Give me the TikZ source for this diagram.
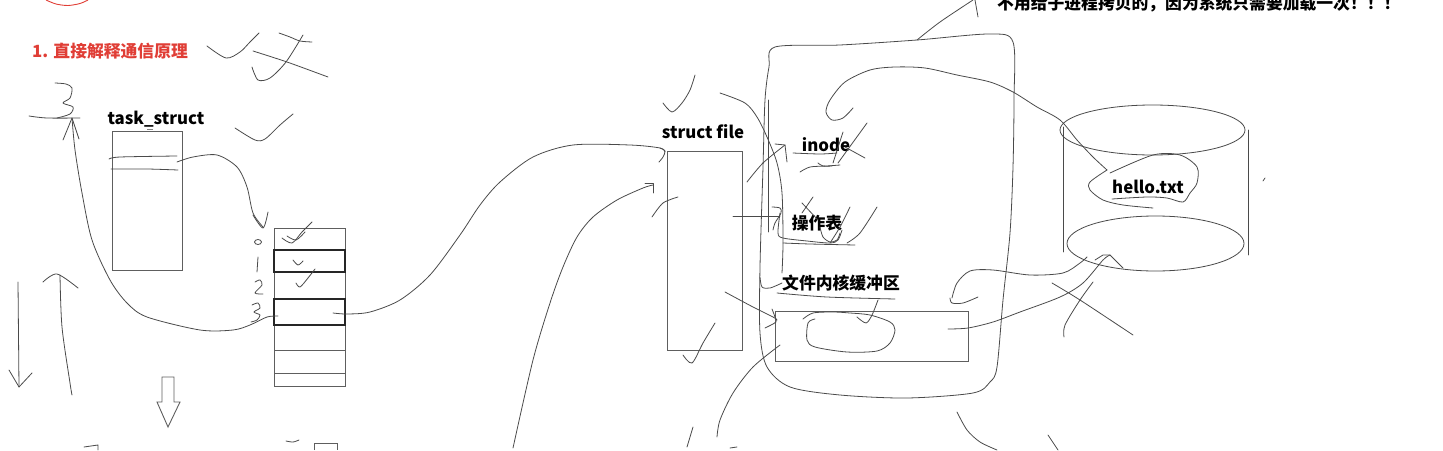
\documentclass[tikz,border=0pt]{standalone}
\usepackage{fontspec}
\setmainfont{Noto Sans CJK SC}
\definecolor{redc}{HTML}{E03E36}
\definecolor{penc}{HTML}{4A4A4A}
\definecolor{boxc}{HTML}{5E5E5E}
\tikzset{
 pen/.style={draw=penc, line width=0.8pt, line cap=round, line join=round},
 box/.style={draw=boxc, line width=0.9pt, inner sep=0pt, outer sep=0pt},
 darkrow/.style={draw=black!85, line width=1.1pt, inner sep=0pt, outer sep=0pt},
 lbl/.style={font=\bfseries\fontsize{16.8}{18}\selectfont, inner sep=0pt, text=black},
}
\begin{document}
\begin{tikzpicture}[x=1pt,y=-1pt]
\useasboundingbox (0,0) rectangle (1443,450);
% ---------- texts ----------
\node[lbl, text=redc, anchor=west] (title) at (32,51) {1. 直接解释通信原理};
\node[lbl, anchor=west] (note) at (997,4) {不用给子进程拷贝的，因为系统只需要加载一次！！！};
\node[lbl] (tsl) at (156,119) {task\_struct};
\node[lbl] (sfl) at (703,132) {struct file};
\node[lbl] (inl) at (826,145) {inode};
\node[lbl] (opl) at (817,223) {操作表};
\node[lbl] (bufl) at (841,283) {文件内核缓冲区};
\node[lbl] (hl) at (1148,187) {hello.txt};
% ---------- boxes ----------
\node[box, minimum width=70, minimum height=139] (ts) at (147,200.5) {};
\node[box, minimum width=71, minimum height=158] (fd) at (309.5,307) {};
\foreach \yy in {250,272,299,325,350,373} \draw[box] (274,\yy) -- (345,\yy);
\node[darkrow, minimum width=71, minimum height=22] (fd1) at (309.5,261) {};
\node[darkrow, minimum width=71, minimum height=26] (fd3) at (309.5,312) {};
\node[box, minimum width=75, minimum height=199] (sf) at (704.5,250.5) {};
\node[box, minimum width=193, minimum height=50] (buf) at (871.5,336) {};
\draw[box] (162,377) -- (174,377) -- (174,402) -- (180,402) -- (168,427) -- (157,402) -- (162,402) -- cycle;
% cylinder
\coordinate (cyltop) at (1152.5,130);
\coordinate (cylbot) at (1155.5,243.5);
\draw[pen] (cyltop) ellipse [x radius=92.5pt, y radius=25pt];
\draw[pen] (cylbot) ellipse [x radius=88.5pt, y radius=27.5pt];
\draw[pen] (1063,127) -- (1063,252);
\draw[pen] (1248,130) -- (1248,255);
% ---------- red arc ----------
\draw[draw=redc, line width=0.9pt] plot[smooth] coordinates {(46,0) (56,4) (68,5.5) (80,3.5) (88,0)};
% ---------- top-left scribbles ----------
\draw[pen] plot[smooth] coordinates {(207,46) (226,58) (240,52) (250,42) (259,33)};
\draw[pen] plot[smooth] coordinates {(279,33) (290,37) (300,41) (312,42)};
\draw[pen] plot[smooth] coordinates {(303,35) (286,62) (270,78) (258,80) (252,67)};
\draw[pen] plot[smooth] coordinates {(253,51) (287,62) (328,77)};
\draw[pen] plot[smooth] coordinates {(235,128) (255,140) (265,139) (280,125) (293,114)};
% hand "3" and line
\draw[pen] plot[smooth] coordinates {(55,83) (66,84) (72,88) (70,98) (63,103) (73,107) (70,114) (57,118)};
\draw[pen] plot[smooth] coordinates {(29,116) (47,118) (80,118)};
% long curve from fd row 3 to the "3"
\coordinate (c3) at (72,118);
\draw[pen] plot[smooth] coordinates {(278,316) (267,317) (250,325) (233,330) (200,330) (147,317) (127,303) (110,280) (92,240) (82,193) (75,150) (c3)};
\draw[pen] (63,140) -- (c3) -- (79,139);
% left arrows
\draw[pen] (18,282) -- (19,387);
\draw[pen] (9,370) -- (19,387) -- (32,373);
\draw[pen] plot[smooth] coordinates {(72,395) (70,383) (62,327) (60,275)};
\draw[pen] plot[smooth] coordinates {(43,282) (57,274) (78,288)};
% bottom fragments
\draw[pen] (84,447) -- (98,445) -- (98,450);
\draw[pen] plot[smooth] coordinates {(286,441) (293,442) (299,440)};
\draw[box] (314,450) -- (314,443) -- (337,443) -- (337,450);
% task_struct inner lines
\draw[pen] plot[smooth] coordinates {(109,159) (120,157) (177,156)};
\draw[pen] plot[smooth] coordinates {(111,169) (147,169) (178,170)};
\draw[draw=gray, line width=1pt] (147,129) -- (153,129);
% task_struct -> fd
\draw[pen] plot[smooth] coordinates {(177,162) (193,157) (217,155) (237,167) (247,187) (253,213) (263,227)};
\draw[pen] plot[smooth] coordinates {(253,215) (263,228) (268,212)};
% hand digits
\draw[pen] (258,242) ellipse [x radius=3.5pt, y radius=2.5pt];
\draw[pen] (258,257) -- (257,272);
\draw[pen] plot[smooth] coordinates {(255,282) (260,280) (262,285) (255,293) (263,294)};
\draw[pen] plot[smooth] coordinates {(252,305) (258,303) (260,308) (254,312) (260,315) (257,320) (251,322)};
% checkmarks
\draw[pen] plot[smooth] coordinates {(282,238) (292,243) (302,232) (312,222)};
\draw[pen] plot[smooth] coordinates {(287,236) (296,240) (305,232)};
\draw[pen] plot[smooth] coordinates {(293,260) (298,265) (303,261)};
\draw[pen] plot[smooth] coordinates {(296,283) (300,287) (308,278) (315,269)};
% fd row 3 -> struct file
\draw[pen] plot[smooth] coordinates {(333,313) (347,314) (370,312) (400,300) (430,275) (460,235) (480,205) (500,182) (533,157) (573,145) (630,145) (660,148) (665,152)};
\draw[pen] plot[smooth] coordinates {(660,148) (665,151) (663,157) (659,162)};
% curve from bottom -> struct file
\draw[pen] plot[smooth] coordinates {(513,448) (533,360) (550,303) (563,267) (577,237) (593,217) (617,200) (643,188) (653,185)};
\draw[pen] (645,183) -- (653,183) -- (653,193);
% struct file scribbles
\draw[pen] plot[smooth] coordinates {(652,217) (663,203) (678,197)};
\draw[pen] plot[smooth] coordinates {(683,355) (692,363) (703,343) (715,323)};
\draw[pen] plot[smooth] coordinates {(663,103) (672,112) (682,103) (690,90) (695,75)};
% big outline (kernel area)
\draw[pen] plot[smooth cycle] coordinates {(775,47) (840,45) (917,40) (990,34) (1013,42) (1014,100) (1013,167) (1010,233) (1003,300) (997,367) (990,382) (973,393) (907,398) (840,395) (790,387) (767,367) (760,333) (760,267) (763,167) (765,100) (769,67)};
\draw[pen] plot[smooth] coordinates {(917,40) (940,22) (973,0)};
\draw[pen] (975,0) -- (978,17);
\draw[pen] (768,100) -- (768,232);
\draw[pen] plot[smooth] coordinates {(720,93) (745,103) (757,117) (767,137) (777,163) (782,193) (783,243) (782,273)};
% struct file -> inode
\draw[pen] plot[smooth] coordinates {(747,182) (763,163) (785,145)};
\draw[pen] (775,144) -- (785,145) -- (787,162);
\draw[pen] plot[smooth] coordinates {(793,153) (820,154) (837,153)};
\draw[pen] (843,132) -- (833,163);
\draw[pen] (867,123) -- (838,163);
\draw[pen] (845,147) -- (865,158);
\draw[pen] plot[smooth] coordinates {(800,172) (810,167) (827,166) (840,165)};
\draw[pen] plot[smooth] coordinates {(818,163) (823,166) (832,166)};
% inode -> hello.txt
\draw[pen] plot[smooth] coordinates {(853,108) (843,118) (832,120) (826,112) (830,100) (845,82) (870,70) (895,67) (925,68) (957,75) (990,82) (1013,92) (1037,107) (1060,120) (1077,140) (1093,157) (1107,170)};
% struct file -> 操作表
\draw[pen] (733,216) -- (780,216);
\draw[pen] plot[smooth] coordinates {(772,207) (780,208) (781,213) (775,223) (773,230)};
\draw[pen] plot[smooth] coordinates {(780,213) (778,233) (783,238) (807,241) (830,243) (838,240) (842,230)};
\draw[pen] plot[smooth] coordinates {(783,243) (810,244) (855,245)};
\draw[pen] (802,203) -- (818,220);
\draw[pen] (813,197) -- (802,213);
\draw[pen] plot[smooth] coordinates {(850,207) (840,227) (830,243)};
\draw[pen] plot[smooth] coordinates {(877,207) (860,233) (847,243)};
\draw[pen] plot[smooth] coordinates {(820,227) (823,237) (830,242) (837,240) (840,233)};
% 文件内核缓冲区
\draw[pen] plot[smooth] coordinates {(760,277) (762,287) (770,288) (782,283)};
\draw[pen] plot[smooth] coordinates {(777,293) (827,297) (895,299)};
\draw[pen] plot[smooth] coordinates {(803,319) (813,313) (833,312) (850,313) (870,315) (890,322) (895,330) (890,343) (877,351) (847,352) (815,347) (807,340) (808,323) (815,319)};
\draw[pen] plot[smooth] coordinates {(878,300) (872,315) (866,323) (857,317)};
% struct file -> buffer
\draw[pen] plot[smooth] coordinates {(725,292) (753,307) (773,317) (777,320)};
\draw[pen] plot[smooth] coordinates {(772,309) (775,317) (776,322) (765,328)};
\draw[pen] plot[smooth] coordinates {(780,345) (753,367) (733,393) (720,420) (717,437)};
\draw[pen] (693,427) -- (687,447);
\draw[pen] (730,448) -- (737,447);
\draw[pen] plot[smooth] coordinates {(957,412) (967,430) (980,442) (997,450)};
\draw[pen] (1048,435) -- (1058,450);
% buffer <-> disk
\draw[pen] plot[smooth] coordinates {(948,329) (968,328) (993,322) (1020,312) (1060,297) (1083,283) (1103,260) (1110,255)};
\draw[pen] (1095,260) -- (1103,255) -- (1110,255) -- (1123,268);
\draw[pen] plot[smooth] coordinates {(950,298) (952,303) (963,303) (978,297)};
\draw[pen] plot[smooth] coordinates {(952,298) (957,283) (970,271) (993,270) (1030,275) (1063,273) (1080,263) (1087,257)};
\draw[pen] plot[smooth] coordinates {(1052,283) (1080,300) (1133,335)};
\draw[pen] plot[smooth] coordinates {(1093,282) (1080,300) (1065,325) (1064,337)};
\draw[pen] (1263,181) -- (1265,178);
% hello.txt blob
\draw[pen] plot[smooth] coordinates {(1107,170) (1090,182) (1090,190) (1103,200) (1123,205) (1153,208)};
\draw[pen] plot[smooth] coordinates {(1110,173) (1153,155) (1180,155) (1197,167) (1197,183) (1190,193) (1183,202) (1167,198) (1147,197) (1112,199)};
\end{tikzpicture}
\end{document}
